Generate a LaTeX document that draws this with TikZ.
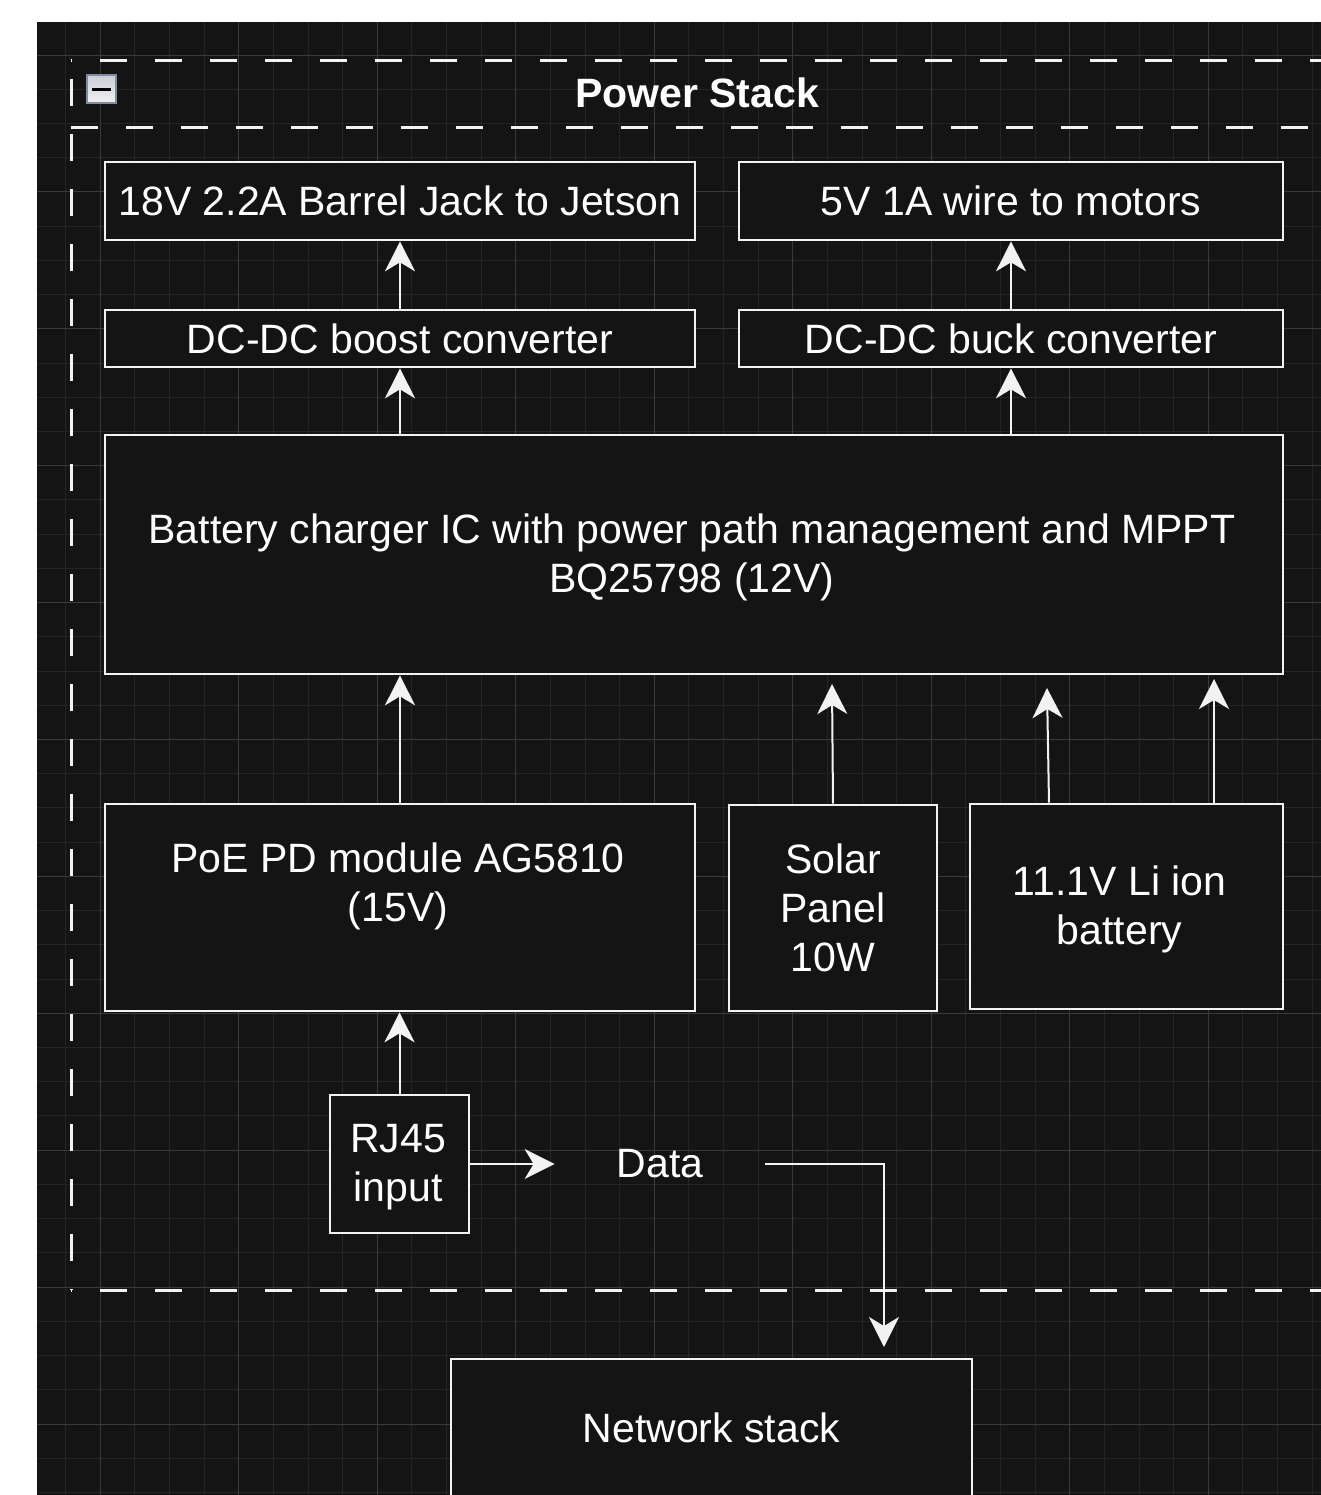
\documentclass[tikz,border=0pt]{standalone}
\usepackage{fontspec}
\setmainfont{Liberation Sans}
\usetikzlibrary{arrows.meta}
\definecolor{bgc}{HTML}{141414}
\definecolor{minorc}{HTML}{242424}
\definecolor{majorc}{HTML}{3A3A3A}
\definecolor{linec}{HTML}{F2F2F2}
\definecolor{iconborder}{HTML}{7F8BA0}
\definecolor{icontop}{HTML}{C9CDD6}
\definecolor{iconbot}{HTML}{F0F0F0}
\begin{document}
\begin{tikzpicture}[x=0.5pt,y=-0.5pt,
  every node/.style={font=\fontsize{20.5pt}{24.5pt}\selectfont, text=white},
  box/.style={draw=linec, line width=1.3pt, fill=bgc, inner sep=0pt, align=center},
  txt/.style={inner sep=0pt, align=center},
  arr/.style={draw=linec, line width=1pt, -{Stealth[length=15pt,width=15pt,inset=4.5pt]}},
  minorgrid/.style={draw=minorc, line width=0.5pt},
  majorgrid/.style={draw=majorc, line width=0.5pt},
  contour/.style={draw=linec, line width=1.5pt, dash pattern=on 13.5pt off 14pt}
]
\useasboundingbox (0,0) rectangle (1321,1495);
\clip (0,0) rectangle (1321,1495);
\fill[white] (0,0) rectangle (1321,1495);
\fill[bgc] (37,22) rectangle (1321,1495);
% grid
\begin{scope}
\clip (37,22) rectangle (1321,1495);
\foreach \i in {0,...,36} { \draw[minorgrid] ({65.7+34.625*\i},22) -- ({65.7+34.625*\i},1495); }
\foreach \j in {0,...,42} { \draw[minorgrid] (37,{55+34.225*\j}) -- (1321,{55+34.225*\j}); }
\foreach \i in {0,...,8} { \draw[majorgrid] ({100.3+138.5*\i},22) -- ({100.3+138.5*\i},1495); }
\foreach \j in {0,...,10} { \draw[majorgrid] (37,{55+136.9*\j}) -- (1321,{55+136.9*\j}); }
\end{scope}
% container
\draw[contour, dash phase=13pt] (71,60) -- (1345,60);
\draw[contour, dash phase=13pt] (71,1290) -- (1345,1290);
\draw[contour, dash phase=13pt] (71,1290) -- (71,60);
\draw[contour] (71,127) -- (1345,127);
% collapse icon
\shade[top color=icontop, bottom color=iconbot, draw=iconborder, line width=0.8pt] (87,75) rectangle (116,103);
\draw[black, line width=1.5pt] (92,89) -- (111,89);
\node[txt, font=\fontsize{20.5pt}{24.5pt}\selectfont\bfseries] (title) at (697,93) {Power Stack};
% boxes
\node[box, minimum width=295pt, minimum height=39pt] (barrel) at (400,201) {18V 2.2A Barrel Jack to Jetson};
\node[box, minimum width=272pt, minimum height=39pt] (motors) at (1011,201) {5V 1A wire to motors};
\node[box, minimum width=295pt, minimum height=28.5pt] (boost) at (400,338.5) {DC-DC boost converter};
\node[box, minimum width=272pt, minimum height=28.5pt] (buck) at (1011,338.5) {DC-DC buck converter};
\node[box, minimum width=589pt, minimum height=119.5pt] (charger) at (694,554.5) {};
\node[txt] (chargertext) at (692,557) {Battery charger IC with power path management and MPPT\\BQ25798 (12V)};
\node[box, minimum width=295pt, minimum height=103.5pt] (poe) at (400,907.5) {};
\node[txt] (poetext) at (398,886) {PoE PD module AG5810\\(15V)};
\node[box, minimum width=104pt, minimum height=103pt] (solar) at (833,908) {Solar\\Panel\\10W};
\node[box, minimum width=156.5pt, minimum height=102.5pt] (bat) at (1126.5,906.5) {};
\node[txt] (battext) at (1119.5,909) {11.1V Li ion\\battery};
\node[box, minimum width=69.5pt, minimum height=69pt] (rj) at (399.5,1164) {};
\node[txt] (rjtext) at (398,1167) {RJ45\\input};
\node[txt, minimum width=105pt] (data) at (660,1164) {Data};
\node[box, minimum width=260.5pt, minimum height=69pt] (net) at (711.5,1428) {Network stack};
% free ends
\coordinate (solarTip) at (832,684);
\coordinate (batTailA) at (1049,0);
\coordinate (batTipA) at (1047,688);
\coordinate (batTipB) at (1214,679);
\coordinate (netTip) at (884,1347);
% connectors
\draw[arr] (boost.north) -- (barrel.south);
\draw[arr] (buck.north) -- (motors.south);
\draw[arr] (boost.south |- charger.north) -- (boost.south);
\draw[arr] (buck.south |- charger.north) -- (buck.south);
\draw[arr] (poe.north) -- (poe.north |- charger.south);
\draw[arr] (solar.north) -- (solarTip);
\draw[arr] (bat.north -| batTailA) -- (batTipA);
\draw[arr] (bat.north -| batTipB) -- (batTipB);
\draw[arr] (rj.north) -- (rj.north |- poe.south);
\draw[arr] (rj.east) -- (data.west);
\draw[arr] (data.east) -| (netTip);
\end{tikzpicture}
\end{document}
